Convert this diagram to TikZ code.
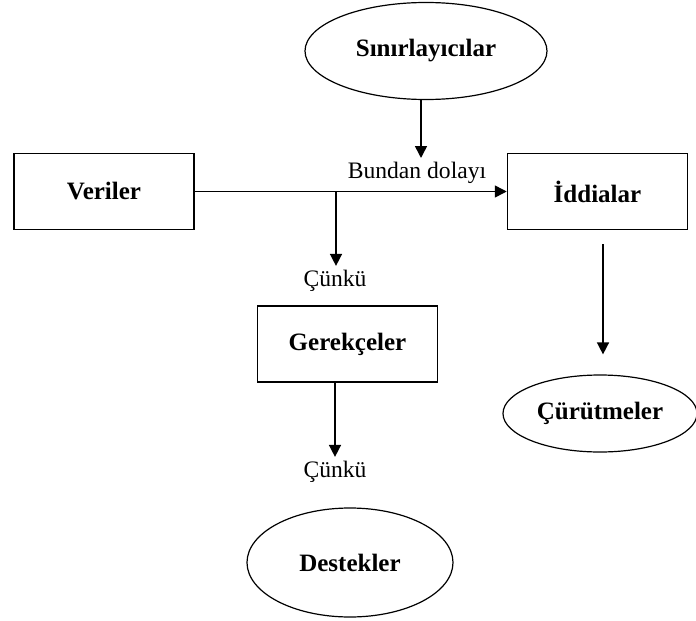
\documentclass[tikz,border=0pt]{standalone}
\usepackage{fontspec}
\setmainfont{Liberation Serif}
\usetikzlibrary{shapes.geometric, arrows.meta}

\tikzstyle{box}=[draw, line width=0.75pt, inner sep=0pt, minimum width=90pt, minimum height=38pt, font=\fontsize{12.5}{14}\selectfont\bfseries]
\tikzstyle{oval}=[draw, ellipse, line width=0.6pt, inner sep=0pt, font=\fontsize{12.5}{14}\selectfont\bfseries]
\tikzstyle{word}=[inner sep=2pt, font=\fontsize{11.8}{14}\selectfont]
\tikzstyle{arrow}=[line width=0.75pt, -{Triangle[length=6pt, width=6pt]}]

\begin{document}
\begin{tikzpicture}[x=0.5pt, y=-0.5pt]
      \useasboundingbox (0, 0) rectangle (696, 621);

      \node[oval, minimum width=121pt, minimum height=48.5pt] (sinir) at (426, 51) {Sınırlayıcılar};
      \node[box] (veri) at (104, 191.5) {Veriler};
      \node[box] (iddia) at (597.5, 191.5) {İddialar};
      \node[box] (gerekce) at (347.5, 344) {Gerekçeler};
      \node[oval, minimum width=97pt, minimum height=38.5pt] (curut) at (600, 413.5) {Çürütmeler};
      \node[oval, minimum width=103pt, minimum height=54.5pt] (destek) at (350, 562.5) {Destekler};

      \node[word] (dolayi) at (417, 173) {Bundan dolayı};
      \node[word] (cunkua) at (335, 281) {Çünkü};
      \node[word] (cunkub) at (335, 472) {Çünkü};

      \coordinate (sinirucu) at (421, 158);
      \coordinate (dal) at (336, 191.5);

      \draw[arrow] (sinir.south -| sinirucu) to (sinirucu);
      \draw[arrow] (veri) to (iddia);
      \draw[arrow] (dal) to (dal |- cunkua.north);
      \draw[arrow] (gerekce.south -| cunkub) to (cunkub);
      \draw[arrow, shorten <=7pt, shorten >=10pt] (iddia.south -| 603, 0) to (curut.north -| 603, 0);
    \end{tikzpicture}
\end{document}
